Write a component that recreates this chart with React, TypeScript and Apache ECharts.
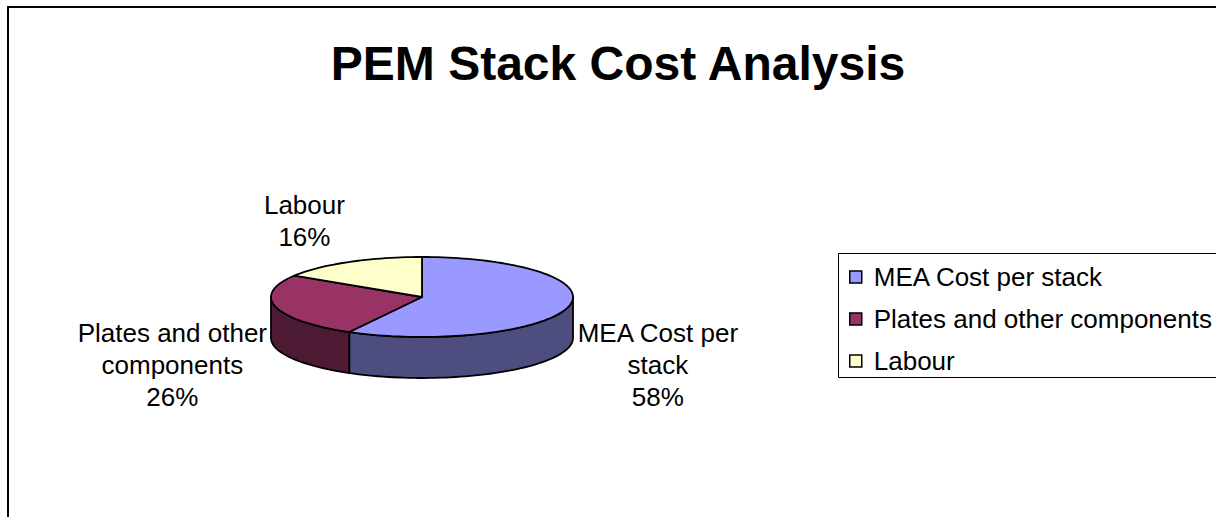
import React, { useEffect, useRef } from "react";
import * as echarts from "echarts";

// ---- data ----
const categories = ["MEA Cost per stack", "Plates and other components", "Labour"];
const values = [58, 26, 16];
const labelLines = [["MEA Cost per", "stack"], ["Plates and other", "components"], ["Labour"]];
const titleText = "PEM Stack Cost Analysis";

// ---- style ----
const topColors = ["#9999FF", "#993366", "#FFFFCC"];
const sideColors = ["#4D4D80", "#4D1A33", "#80806A"];
const FONT = "'Liberation Sans', Arial, sans-serif";
const PIE = { cx: 422, cy: 297, rx: 151, ry: 40, depth: 41 };
const LABEL = { fontSize: 26, lineHeight: 32, lx: 160, ly: 128, dy: 36 };

const total = values.reduce((a, b) => a + b, 0);

function measure(text: string, font: string): number {
  const c = document.createElement("canvas").getContext("2d");
  if (!c) return text.length * 12;
  c.font = font;
  return c.measureText(text).width;
}

function arcPoints(a0: number, a1: number, yOff: number): number[][] {
  const n = Math.max(2, Math.ceil(((a1 - a0) / (Math.PI * 2)) * 180));
  const pts: number[][] = [];
  for (let k = 0; k <= n; k++) {
    const t = a0 + ((a1 - a0) * k) / n;
    pts.push([PIE.cx + PIE.rx * Math.cos(t), PIE.cy + yOff + PIE.ry * Math.sin(t)]);
  }
  return pts;
}

function makeSeries(i: number) {
  return {
    type: "custom",
    name: categories[i],
    coordinateSystem: "none",
    silent: true,
    itemStyle: { color: topColors[i] },
    data: [[values[i]]],
    renderItem: (_params: any, api: any) => {
      const v = api.value(0) as number;
      let before = 0;
      for (let j = 0; j < i; j++) before += values[j];
      const a0 = -Math.PI / 2 + (before / total) * Math.PI * 2;
      const a1 = a0 + (v / total) * Math.PI * 2;
      const children: any[] = [];
      // visible front wall
      const s = Math.max(a0, 0);
      const e = Math.min(a1, Math.PI);
      if (e > s) {
        const top = arcPoints(s, e, 0);
        const bot = arcPoints(s, e, PIE.depth).reverse();
        children.push({
          type: "polygon",
          z2: 1,
          shape: { points: top.concat(bot) },
          style: { fill: sideColors[i], stroke: "#000", lineWidth: 1.8, lineJoin: "round" },
        });
      }
      // top face
      children.push({
        type: "polygon",
        z2: 10,
        shape: { points: [[PIE.cx, PIE.cy]].concat(arcPoints(a0, a1, 0)) },
        style: { fill: topColors[i], stroke: "#000", lineWidth: 1.8, lineJoin: "round" },
      });
      // label
      const mid = (a0 + a1) / 2;
      const pct = Math.round((v / total) * 100) + "%";
      const lines = labelLines[i].concat([pct]);
      const font = `${LABEL.fontSize}px ${FONT}`;
      const w = Math.max(...lines.map((l) => measure(l, font)));
      const cosm = Math.cos(mid);
      const ax = PIE.cx + cosm * LABEL.lx;
      const lxc = cosm >= 0 ? ax + w / 2 : ax - w / 2;
      const lyc = PIE.cy + Math.sin(mid) * LABEL.ly + LABEL.dy;
      children.push({
        type: "text",
        z2: 20,
        style: {
          text: lines.join("\n"),
          x: lxc,
          y: lyc,
          fill: "#000",
          fontSize: LABEL.fontSize,
          fontFamily: FONT,
          lineHeight: LABEL.lineHeight,
          align: "center",
          verticalAlign: "middle",
        },
      });
      return { type: "group", children };
    },
  };
}

export default function App() {
  const ref = useRef<HTMLDivElement>(null);
  useEffect(() => {
    if (!ref.current) return;
    const chart = echarts.init(ref.current, undefined, { renderer: "svg" });
    chart.setOption({
      animation: false,
      backgroundColor: "#fff",
      legend: {
        orient: "vertical",
        left: 849,
        top: 264,
        padding: 0,
        itemWidth: 12,
        itemHeight: 12,
        itemGap: 16,
        icon: "rect",
        selectedMode: false,
        itemStyle: { borderColor: "#000", borderWidth: 1.5 },
        textStyle: { fontSize: 26, fontFamily: FONT, color: "#000", padding: [0, 0, 0, 7] },
        data: categories,
      },
      graphic: [
        {
          type: "rect",
          z: -1,
          shape: { x: 8, y: 7, width: 1400, height: 700 },
          style: { fill: "none", stroke: "#000", lineWidth: 2 },
        },
        {
          type: "rect",
          z: -1,
          shape: { x: 838.5, y: 253.5, width: 500, height: 124 },
          style: { fill: "#fff", stroke: "#000", lineWidth: 1 },
        },
        {
          type: "text",
          style: {
            text: titleText,
            x: 618,
            y: 63,
            fill: "#000",
            fontSize: 48,
            fontWeight: "bold",
            fontFamily: FONT,
            align: "center",
            verticalAlign: "middle",
          },
        },
      ],
      series: categories.map((_, i) => makeSeries(i)),
    });
    return () => chart.dispose();
  }, []);
  return (
    <div
      ref={ref}
      style={{ position: "absolute", left: 0, top: 0, width: 1216, height: 517 }}
    />
  );
}
